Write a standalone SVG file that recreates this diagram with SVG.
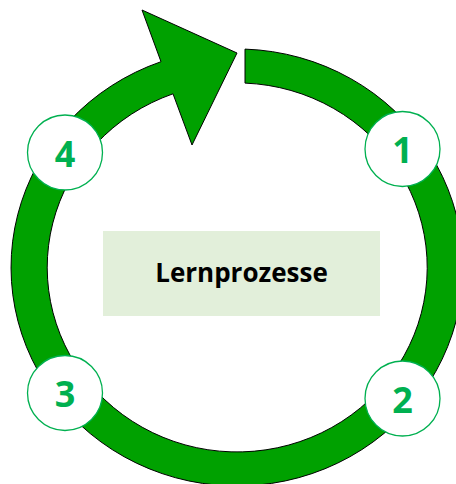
<svg xmlns="http://www.w3.org/2000/svg" width="456" height="484" viewBox="0 0 456 484">
<style>
.ring{fill:#00A100;stroke:#000;stroke-width:1;stroke-linejoin:miter}
.badge{fill:#fff;stroke:#00B050;stroke-width:1.3}
.num{font-family:"Open Sans","Liberation Sans",sans-serif;font-weight:bold;font-size:36px;fill:#00B050;text-anchor:middle}
.title{font-family:"Open Sans","Liberation Sans",sans-serif;font-weight:bold;font-size:26px;fill:#000;text-anchor:middle}
</style>
<rect width="456" height="484" fill="#fff"/>
<g id="connectors">
<path class="ring" d="M245 49.1 A226 218.5 0 1 1 161 61.7 L142 10 L237 53 L192 145 L173 93.8 A190 184.5 0 1 0 245 83.1 Z"/>
</g>
<g id="center">
<rect x="103" y="231" width="277" height="85" fill="#E2EFDA"/>
<text class="title" x="241.5" y="282">Lernprozesse</text>
</g>
<g id="n1"><circle class="badge" cx="402.5" cy="149" r="37.5"/><text class="num" x="402.5" y="163">1</text></g>
<g id="n2"><circle class="badge" cx="402.5" cy="398.5" r="37.5"/><text class="num" x="402.5" y="412.5">2</text></g>
<g id="n3"><circle class="badge" cx="65" cy="393" r="37.5"/><text class="num" x="65" y="407">3</text></g>
<g id="n4"><circle class="badge" cx="65" cy="152.5" r="37.5"/><text class="num" x="65" y="166.5">4</text></g>
</svg>
